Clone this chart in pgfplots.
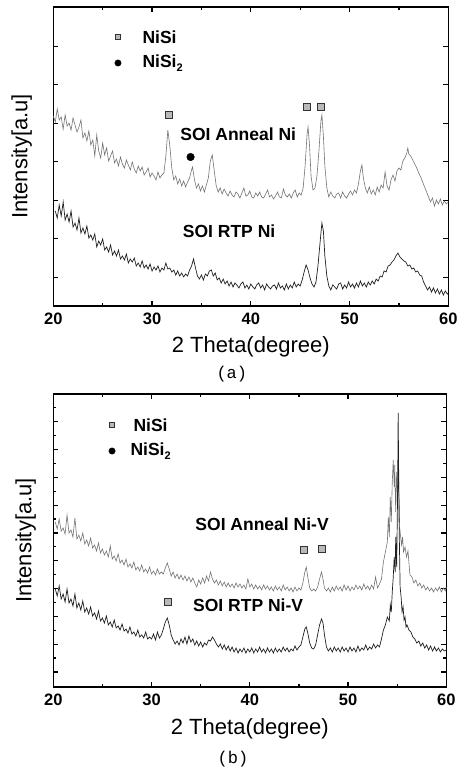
\documentclass[border=0pt]{standalone}
\usepackage{fontspec}
\setmainfont{Liberation Sans}
\newfontfamily\capfont{Liberation Mono}
\usepackage{pgfplots}
\pgfplotsset{compat=1.18}
\pgfplotsset{xrdaxis/.style={
  scale only axis, clip=false,
  xmin=20, xmax=60,
  xtick={20,30,40,50,60},
  minor xtick={25,35,45,55},
  tick align=inside,
  major tick length=5pt, minor tick length=3pt,
  every tick/.style={black, line width=1.2pt},
  axis line style={line width=1.5pt},
  yticklabels={},
  /pgf/number format/assume math mode=true,
  xticklabel style={font=\bfseries\fontsize{16.5}{16.5}\selectfont, yshift=-3pt},
  xlabel={2 Theta(degree)},
  ylabel={Intensity[a.u]},
  label style={font=\fontsize{22}{22}\selectfont},
}}
\tikzset{
  annline/.style={draw=black!55, line width=0.6pt},
  rtpline/.style={draw=black!88, line width=0.7pt},
  nisimark/.style={only marks, mark=square*, mark size=3.3pt, mark options={fill=gray!55, draw=black!80, line width=0.8pt}},
  nisi2mark/.style={only marks, mark=*, mark size=3.8pt, mark options={fill=black, draw=black}},
  bt/.style={font=\bfseries\fontsize{17.5}{17.5}\selectfont},
}
\newcommand{\subtwo}{\raisebox{-4pt}{\fontsize{11}{11}\selectfont 2}}
\begin{document}
\begin{tikzpicture}
\useasboundingbox (0,0) rectangle (461pt,768pt);
% ---------------- (a) ----------------
\begin{axis}[xrdaxis,
  at={(53.3pt,462pt)}, anchor=south west,
  width=395pt, height=299pt,
  ymin=0, ymax=299,
  ytick={28.7,67.2,105.7,144.2,182.7,221.2,259.7},
  xlabel style={at={(axis description cs:0.5,-0.137)}, anchor=center},
  ylabel style={at={(axis description cs:-0.08,0.5)}, anchor=center},
]
\addplot[annline] coordinates {
(20.0,190)(20.2,184)(20.4,197)(20.6,186)(20.8,189)(21.0,177)(21.2,191)(21.4,180)(21.6,183)(21.8,176)
(22.0,188)(22.2,181)(22.4,174)(22.6,179)(22.8,186)(23.0,168)(23.2,173)(23.4,165)(23.6,175)(23.8,161)
(24.0,166)(24.2,150)(24.4,171)(24.6,155)(24.8,148)(25.0,163)(25.2,151)(25.4,158)(25.6,145)(25.8,150)
(26.0,155)(26.2,143)(26.4,147)(26.6,140)(26.8,149)(27.0,142)(27.2,138)(27.4,146)(27.6,141)(27.8,136)
(28.0,144)(28.2,137)(28.4,133)(28.6,140)(28.8,135)(29.0,139)(29.2,131)(29.4,134)(29.6,138)(29.8,129)
(30.0,133)(30.2,130)(30.4,126)(30.6,134)(30.8,128)(31.0,131)(31.2,133)(31.4,150)(31.6,176)(31.8,160)
(32.0,138)(32.2,126)(32.4,130)(32.6,122)(32.8,127)(33.0,120)(33.2,125)(33.4,119)(33.6,124)(33.8,128)
(34.0,136)(34.1,139)(34.3,126)(34.5,118)(34.7,122)(34.9,115)(35.1,120)(35.3,114)(35.5,121)(35.7,128)
(35.9,145)(36.1,151)(36.3,135)(36.5,120)(36.7,114)(36.9,118)(37.1,112)(37.3,117)(37.5,113)(37.7,110)
(37.9,115)(38.1,111)(38.3,109)(38.5,114)(38.7,112)(38.9,108)(39.1,113)(39.3,118)(39.5,110)(39.7,111)
(39.9,115)(40.1,109)(40.3,108)(40.5,113)(40.7,110)(40.9,114)(41.1,109)(41.3,108)(41.5,112)(41.7,116)
(41.9,109)(42.1,111)(42.3,107)(42.5,110)(42.7,114)(42.9,109)(43.1,108)(43.3,117)(43.5,111)(43.7,109)
(43.9,112)(44.1,108)(44.3,113)(44.5,116)(44.7,109)(44.9,113)(45.1,111)(45.3,118)(45.5,140)(45.7,172)
(45.8,179)(45.95,160)(46.1,130)(46.3,116)(46.5,118)(46.7,130)(46.9,155)(47.1,185)(47.2,191)(47.35,170)
(47.5,140)(47.7,118)(47.9,109)(48.1,114)(48.3,110)(48.5,108)(48.7,112)(48.9,113)(49.1,108)(49.3,114)
(49.5,110)(49.7,108)(49.9,112)(50.1,115)(50.3,111)(50.5,116)(50.7,113)(50.9,122)(51.1,135)(51.25,141)
(51.4,128)(51.6,118)(51.8,113)(52.0,119)(52.2,112)(52.4,116)(52.6,111)(52.8,119)(53.0,114)(53.2,121)
(53.4,118)(53.6,134)(53.8,120)(54.0,116)(54.2,126)(54.4,131)(54.6,125)(54.8,135)(55.0,138)(55.2,136)
(55.4,145)(55.6,148)(55.8,153)(55.9,158)(56.0,152)(56.2,150)(56.4,146)(56.6,142)(56.8,138)(57.0,133)
(57.2,129)(57.4,124)(57.6,119)(57.8,114)(58.0,109)(58.2,104)(58.4,108)(58.6,100)(58.8,106)(59.0,102)
(59.2,107)(59.4,101)(59.6,105)(59.8,102)(60.0,104)
};
\addplot[rtpline] coordinates {
(20.2,95)(20.4,88)(20.6,101)(20.8,90)(21.0,104)(21.2,86)(21.4,92)(21.6,84)(21.8,95)(22.0,79)
(22.2,83)(22.4,76)(22.6,88)(22.8,73)(23.0,78)(23.2,72)(23.4,80)(23.6,68)(23.8,71)(24.0,66)
(24.2,72)(24.4,59)(24.6,65)(24.8,61)(25.0,67)(25.2,56)(25.4,59)(25.6,54)(25.8,61)(26.0,51)
(26.2,55)(26.4,50)(26.6,56)(26.8,47)(27.0,50)(27.2,46)(27.4,52)(27.6,43)(27.8,47)(28.0,44)
(28.2,48)(28.4,40)(28.6,43)(28.8,39)(29.0,45)(29.2,38)(29.4,41)(29.6,37)(29.8,42)(30.0,35)
(30.2,39)(30.4,36)(30.6,40)(30.8,34)(31.0,38)(31.2,36)(31.4,43)(31.6,37)(31.8,38)(32.0,34)
(32.2,36)(32.4,31)(32.6,35)(32.8,30)(33.0,33)(33.2,29)(33.4,32)(33.6,30)(33.8,36)(34.0,40)
(34.2,47)(34.4,38)(34.6,30)(34.8,27)(35.0,31)(35.2,26)(35.4,32)(35.6,30)(35.8,35)(36.0,36)
(36.2,30)(36.4,33)(36.6,26)(36.8,28)(37.0,23)(37.2,27)(37.4,22)(37.6,25)(37.8,20)(38.0,24)
(38.2,19)(38.4,23)(38.6,21)(38.8,18)(39.0,22)(39.2,24)(39.4,18)(39.6,21)(39.8,17)(40.0,22)
(40.2,19)(40.4,17)(40.6,21)(40.8,23)(41.0,18)(41.2,21)(41.4,16)(41.6,22)(41.8,19)(42.0,17)
(42.2,20)(42.4,21)(42.6,17)(42.8,23)(43.0,18)(43.2,20)(43.4,16)(43.6,22)(43.8,17)(44.0,21)
(44.2,18)(44.4,24)(44.6,19)(44.8,22)(45.0,20)(45.2,26)(45.4,34)(45.6,41)(45.8,36)(46.0,28)
(46.2,22)(46.4,19)(46.6,24)(46.8,40)(47.0,62)(47.2,83)(47.35,75)(47.5,50)(47.7,30)(47.9,20)
(48.1,16)(48.3,21)(48.5,19)(48.7,17)(48.9,22)(49.1,23)(49.3,17)(49.5,21)(49.7,18)(49.9,24)
(50.1,19)(50.3,22)(50.5,18)(50.7,23)(50.9,19)(51.1,25)(51.3,20)(51.5,23)(51.7,19)(51.9,24)
(52.1,21)(52.3,25)(52.5,22)(52.7,27)(52.9,25)(53.1,30)(53.3,29)(53.5,35)(53.7,34)(53.9,40)
(54.1,41)(54.3,44)(54.5,46)(54.7,50)(54.9,53)(55.1,49)(55.3,47)(55.5,45)(55.7,44)(55.9,40)
(56.1,41)(56.3,37)(56.5,38)(56.7,34)(56.9,35)(57.1,31)(57.3,30)(57.5,24)(57.7,20)(57.9,16)
(58.1,19)(58.3,14)(58.5,18)(58.7,13)(58.9,17)(59.1,12)(59.3,16)(59.5,11)(59.7,15)(59.9,12)(60.0,13)
};
\addplot[nisimark] coordinates {(31.7,191) (45.7,199) (47.1,199)};
\addplot[nisi2mark] coordinates {(33.9,149)};
\addplot[nisimark, mark size=2.6pt] coordinates {(26.55,269)};
\addplot[nisi2mark, mark size=3.2pt] coordinates {(26.55,243)};
\node[bt, anchor=west] at (axis cs:28.68,269) {NiSi};
\node[bt, anchor=west] at (axis cs:28.68,243) {NiSi\subtwo};
\node[bt] at (axis cs:38.73,172) {SOI Anneal Ni};
\node[bt] at (axis cs:37.8,75) {SOI RTP Ni};
\node[font=\capfont\fontsize{17}{17}\selectfont] at (axis description cs:0.452,-0.227) {(a)};
\end{axis}
% ---------------- (b) ----------------
\begin{axis}[xrdaxis,
  at={(53.3pt,81pt)}, anchor=south west,
  width=393pt, height=293pt,
  ymin=0, ymax=293,
  ytick={15,42.8,70.6,98.4,126.2,154,181.8,209.6,237.4,265.2},
  minor ytick={28.9,56.7,84.5,112.3,140.1,167.9,195.7,223.5,251.3,279.1},
  xlabel style={at={(axis description cs:0.5,-0.143)}, anchor=center},
  ylabel style={at={(axis description cs:-0.07,0.5)}, anchor=center},
]
\addplot[annline] coordinates {
(20.2,165)(20.4,158)(20.6,168)(20.8,156)(21.0,159)(21.2,153)(21.4,172)(21.6,154)(21.8,157)(22.0,150)
(22.2,169)(22.4,148)(22.6,152)(22.8,146)(23.0,154)(23.2,143)(23.4,147)(23.6,141)(23.8,149)(24.0,139)
(24.2,142)(24.4,136)(24.6,144)(24.8,134)(25.0,138)(25.2,132)(25.4,136)(25.6,130)(25.8,141)(26.0,128)
(26.2,131)(26.4,126)(26.6,133)(26.8,124)(27.0,127)(27.2,122)(27.4,128)(27.6,120)(27.8,123)(28.0,119)
(28.2,125)(28.4,117)(28.6,120)(28.8,116)(29.0,122)(29.2,115)(29.4,118)(29.6,114)(29.8,120)(30.0,113)
(30.2,116)(30.4,112)(30.6,118)(30.8,113)(31.0,115)(31.2,113)(31.4,119)(31.6,124)(31.8,118)(32.0,111)
(32.2,115)(32.4,109)(32.6,113)(32.8,108)(33.0,112)(33.2,107)(33.4,111)(33.6,106)(33.8,110)(34.0,105)
(34.2,109)(34.4,104)(34.6,100)(34.8,107)(35.0,103)(35.2,109)(35.4,104)(35.6,111)(35.8,106)(36.0,115)
(36.2,108)(36.4,104)(36.6,107)(36.8,102)(37.0,106)(37.2,101)(37.4,105)(37.6,100)(37.8,104)(38.0,100)
(38.2,103)(38.4,99)(38.6,104)(38.8,100)(39.0,103)(39.2,99)(39.4,102)(39.6,98)(39.8,108)(40.0,100)
(40.2,103)(40.4,98)(40.6,102)(40.8,98)(41.0,101)(41.2,97)(41.4,102)(41.6,98)(41.8,101)(42.0,97)
(42.2,100)(42.4,96)(42.6,101)(42.8,97)(43.0,100)(43.2,96)(43.4,102)(43.6,97)(43.8,100)(44.0,96)
(44.2,99)(44.4,95)(44.6,100)(44.8,96)(45.0,99)(45.2,97)(45.4,104)(45.6,115)(45.75,120)(45.9,110)
(46.1,99)(46.3,96)(46.5,98)(46.7,96)(46.9,100)(47.1,108)(47.3,115)(47.45,108)(47.6,99)(47.8,96)
(48.0,99)(48.2,95)(48.4,100)(48.6,96)(48.8,101)(49.0,97)(49.2,100)(49.4,96)(49.6,102)(49.8,97)
(50.0,101)(50.2,96)(50.4,100)(50.6,97)(50.8,102)(51.0,98)(51.2,101)(51.4,97)(51.6,103)(51.8,98)
(52.0,101)(52.2,97)(52.4,102)(52.6,98)(52.8,110)(53.0,99)(53.2,103)(53.4,108)(53.6,125)(53.8,135)
(54.0,145)(54.1,170)(54.2,150)(54.3,190)(54.4,165)(54.5,205)(54.6,227)(54.7,200)(54.75,222)(54.85,175)
(54.95,215)(55.05,190)(55.15,208)(55.25,160)(55.35,150)(55.45,142)(55.55,150)(55.65,135)(55.8,140)(55.95,130)
(56.1,136)(56.3,112)(56.5,110)(56.7,104)(56.9,107)(57.1,101)(57.3,104)(57.5,99)(57.7,102)(57.9,97)
(58.1,100)(58.3,96)(58.5,99)(58.7,95)(58.9,99)(59.1,96)(59.3,100)(59.5,95)(59.7,99)(59.9,96)(60.0,100)
};
\addplot[rtpline] coordinates {
(20.2,98)(20.4,91)(20.6,101)(20.8,88)(21.0,93)(21.2,85)(21.4,98)(21.6,84)(21.8,88)(22.0,81)
(22.2,93)(22.4,79)(22.6,84)(22.8,77)(23.0,86)(23.2,75)(23.4,79)(23.6,73)(23.8,80)(24.0,71)
(24.2,74)(24.4,68)(24.6,76)(24.8,66)(25.0,69)(25.2,64)(25.4,71)(25.6,62)(25.8,65)(26.0,60)
(26.2,67)(26.4,59)(26.6,61)(26.8,57)(27.0,63)(27.2,56)(27.4,58)(27.6,54)(27.8,60)(28.0,53)
(28.2,55)(28.4,51)(28.6,57)(28.8,50)(29.0,52)(29.2,49)(29.4,55)(29.6,48)(29.8,50)(30.0,48)
(30.2,53)(30.4,47)(30.6,55)(30.8,49)(31.0,52)(31.2,58)(31.4,65)(31.6,69)(31.8,62)(32.0,52)
(32.2,47)(32.4,43)(32.6,46)(32.8,42)(33.0,48)(33.2,44)(33.4,50)(33.6,43)(33.8,51)(34.0,45)
(34.2,48)(34.4,42)(34.6,46)(34.8,41)(35.0,45)(35.2,40)(35.4,44)(35.6,42)(35.8,47)(36.0,46)
(36.2,50)(36.4,47)(36.6,43)(36.8,40)(37.0,43)(37.2,38)(37.4,42)(37.6,37)(37.8,41)(38.0,36)
(38.2,40)(38.4,35)(38.6,39)(38.8,34)(39.0,38)(39.2,35)(39.4,39)(39.6,34)(39.8,38)(40.0,35)
(40.2,39)(40.4,34)(40.6,38)(40.8,35)(41.0,40)(41.2,35)(41.4,38)(41.6,34)(41.8,39)(42.0,35)
(42.2,38)(42.4,34)(42.6,39)(42.8,35)(43.0,38)(43.2,35)(43.4,40)(43.6,36)(43.8,39)(44.0,35)
(44.2,38)(44.4,36)(44.6,41)(44.8,37)(45.0,40)(45.2,42)(45.4,50)(45.6,58)(45.75,60)(45.9,54)
(46.1,44)(46.3,39)(46.5,38)(46.7,42)(46.9,52)(47.1,62)(47.3,68)(47.45,64)(47.6,52)(47.8,40)
(48.0,36)(48.2,39)(48.4,35)(48.6,40)(48.8,36)(49.0,39)(49.2,35)(49.4,40)(49.6,36)(49.8,39)
(50.0,35)(50.2,40)(50.4,36)(50.6,39)(50.8,35)(51.0,41)(51.2,36)(51.4,39)(51.6,37)(51.8,42)
(52.0,37)(52.2,40)(52.4,38)(52.6,43)(52.8,39)(53.0,42)(53.2,40)(53.4,48)(53.6,57)(53.8,62)
(54.0,70)(54.2,66)(54.3,82)(54.4,75)(54.5,95)(54.6,110)(54.7,130)(54.8,115)(54.85,150)(54.95,120)
(55.05,200)(55.1,274)(55.2,160)(55.3,100)(55.4,90)(55.5,75)(55.6,80)(55.7,67)(55.8,70)(55.9,60)
(56.0,62)(56.2,57)(56.4,55)(56.6,50)(56.8,48)(57.0,44)(57.2,46)(57.4,41)(57.6,44)(57.8,39)
(58.0,42)(58.2,37)(58.4,41)(58.6,36)(58.8,40)(59.0,36)(59.2,39)(59.4,35)(59.6,38)(59.8,36)(60.0,37)
};
\addplot[nisimark] coordinates {(45.53,137) (47.36,138) (31.68,85)};
\addplot[nisimark, mark size=2.6pt] coordinates {(25.98,262)};
\addplot[nisi2mark, mark size=3.2pt] coordinates {(25.98,236)};
\node[bt, anchor=west] at (axis cs:27.81,262) {NiSi};
\node[bt, anchor=west] at (axis cs:27.5,236) {NiSi\subtwo};
\node[bt] at (axis cs:41.25,163) {SOI Anneal Ni-V};
\node[bt] at (axis cs:39.83,82) {SOI RTP Ni-V};
\node[font=\capfont\fontsize{17}{17}\selectfont] at (axis description cs:0.457,-0.246) {(b)};
\end{axis}
\end{tikzpicture}
\end{document}
